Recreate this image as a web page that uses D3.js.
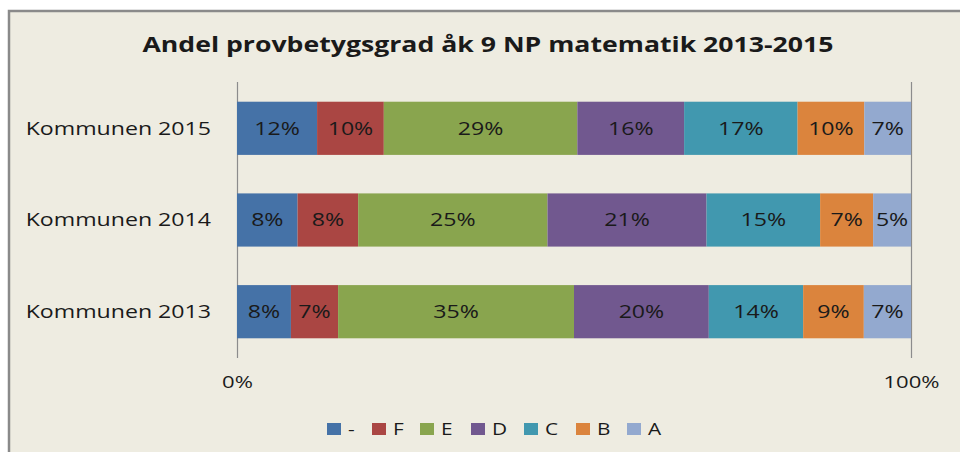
<!DOCTYPE html>
<html><head><meta charset="utf-8">
<script src="https://cdn.jsdelivr.net/npm/d3@7"></script>
<style>
html,body{margin:0;padding:0;background:#fff;}
svg{display:block;}
text{font-family:"Open Sans",sans-serif;fill:#1a1a1a;}
</style></head>
<body>
<script>
const title = "Andel provbetygsgrad åk 9 NP matematik 2013-2015";
const categories = ["Kommunen 2015", "Kommunen 2014", "Kommunen 2013"];
const grades = ["-", "F", "E", "D", "C", "B", "A"];
const values2015 = [12, 10, 29, 16, 17, 10, 7];
const values2014 = [8, 8, 25, 21, 15, 7, 5];
const values2013 = [8, 7, 35, 20, 14, 9, 7];
const xTickValues = [0, 1];
const xTickLabels = ["0%", "100%"];
const gradeColors = ["#4572A7", "#AA4643", "#89A54E", "#71588F", "#4198AF", "#DB843D", "#93A9CF"];

const seriesByCategory = [values2015, values2014, values2013];
const W = 960, H = 452, S = 1.3; // horizontal text stretch

const svg = d3.select("body").append("svg").attr("width", W).attr("height", H);
svg.append("rect").attr("x", 9).attr("y", 11).attr("width", W).attr("height", H)
  .attr("fill", "#EEECE1").attr("stroke", "#8a8a8a").attr("stroke-width", 2.5);

const x = d3.scaleLinear().domain([0, 1]).range([237, 911]);
const y = d3.scaleBand().domain(categories).range([82, 358]).paddingInner(0.42).paddingOuter(0.215);
const color = d3.scaleOrdinal().domain(grades).range(gradeColors);

// title
svg.append("text").attr("transform", `translate(488,52) scale(${S},1)`)
  .attr("text-anchor", "middle").attr("font-size", 20.5).attr("font-weight", 700).text(title);

// gridlines (x axis)
const xAxis = d3.axisBottom(x).tickValues(xTickValues).tickFormat((d, i) => xTickLabels[i])
  .tickSize(-(358 - 82)).tickPadding(18);
const gx = svg.append("g").attr("transform", "translate(0,358)").call(xAxis);
gx.select(".domain").remove();
gx.selectAll(".tick line").attr("stroke", "#8c8c8c").attr("stroke-width", 1.2);
gx.selectAll(".tick text").attr("font-size", 17).attr("fill", "#1a1a1a")
  .attr("font-family", "Open Sans, sans-serif")
  .attr("transform", `scale(${S},1)`);

// y axis labels
const yAxis = d3.axisLeft(y).tickSize(0).tickPadding(0);
const gy = svg.append("g").attr("transform", "translate(211,0)").call(yAxis);
gy.select(".domain").remove();
gy.selectAll(".tick text").attr("font-size", 17.8).attr("fill", "#1a1a1a")
  .attr("font-family", "Open Sans, sans-serif").attr("dy", "0.35em")
  .attr("transform", `scale(${S},1)`);

// stacked normalized data
const rows = categories.map((c, i) => {
  const vals = seriesByCategory[i];
  const tot = d3.sum(vals);
  let acc = 0;
  return vals.map((v, j) => {
    const seg = {cat: c, grade: grades[j], v, x0: acc / tot, x1: (acc + v) / tot};
    acc += v;
    return seg;
  });
}).flat();

svg.append("g").selectAll("rect").data(rows).join("rect")
  .attr("x", d => x(d.x0)).attr("width", d => x(d.x1) - x(d.x0))
  .attr("y", d => y(d.cat)).attr("height", y.bandwidth())
  .attr("fill", d => color(d.grade));

svg.append("g").selectAll("text").data(rows).join("text")
  .attr("transform", d => `translate(${(x(d.x0) + x(d.x1)) / 2},${y(d.cat) + y.bandwidth() / 2}) scale(${S},1)`)
  .attr("text-anchor", "middle").attr("dy", "0.36em").attr("font-size", 17.8)
  .text(d => d.v + "%");

// legend
const legendX = [327, 372, 420, 471, 524, 576, 627];
const lg = svg.append("g").selectAll("g").data(grades).join("g")
  .attr("transform", (d, i) => `translate(${legendX[i]},423)`);
lg.append("rect").attr("width", 14).attr("height", 12).attr("fill", d => color(d));
lg.append("text").attr("transform", `translate(21,6) scale(${S},1)`).attr("dy", "0.36em")
  .attr("font-size", 16).text(d => d);
</script>
</body></html>
